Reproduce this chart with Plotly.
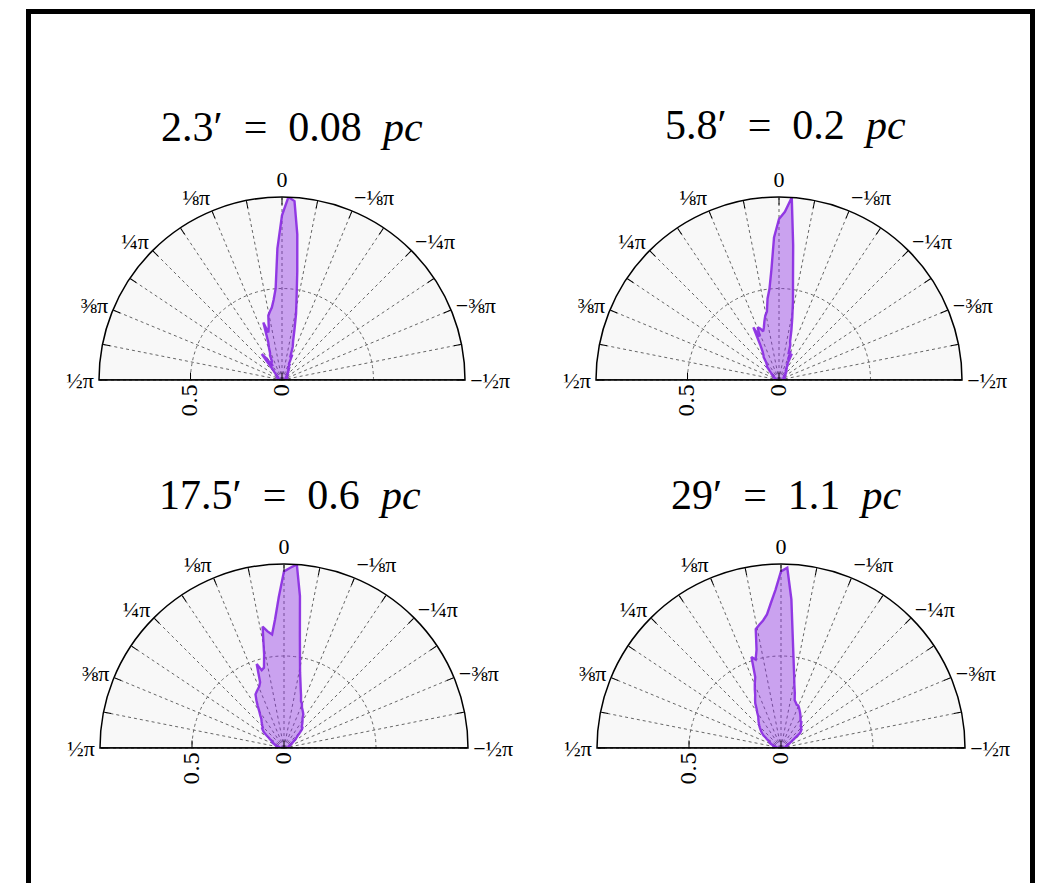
import plotly.graph_objects as go

# angle bins (degrees, 0 = up, positive = left)
theta_deg = list(range(-90, 92, 2))

r_a = [0.02, 0.02, 0.03, 0.02, 0.02, 0.03, 0.02, 0.03, 0.02, 0.03, 0.03, 0.02, 0.03, 0.03, 0.02, 0.03, 0.03, 0.04, 0.03, 0.03,
       0.04, 0.03, 0.04, 0.05, 0.04, 0.05, 0.06, 0.05, 0.07, 0.06, 0.08, 0.07, 0.10, 0.09, 0.15, 0.13, 0.19, 0.22, 0.28, 0.37, 0.46, 0.60, 0.80, 0.98, 1.00,
       0.90,
       0.72, 0.50, 0.44, 0.40, 0.38, 0.36, 0.30, 0.27, 0.33, 0.22, 0.19, 0.16, 0.15, 0.12, 0.11, 0.12, 0.09, 0.15, 0.18, 0.10, 0.07, 0.06, 0.05, 0.04, 0.04,
       0.03, 0.03, 0.04, 0.03, 0.03, 0.02, 0.03, 0.03, 0.02, 0.03, 0.02, 0.02, 0.03, 0.02, 0.02, 0.03, 0.02, 0.02, 0.02, 0.02]

r_b = [0.02, 0.03, 0.02, 0.03, 0.02, 0.03, 0.03, 0.02, 0.03, 0.03, 0.02, 0.03, 0.04, 0.03, 0.03, 0.04, 0.03, 0.04, 0.04, 0.03,
       0.05, 0.04, 0.05, 0.06, 0.05, 0.06, 0.07, 0.06, 0.08, 0.07, 0.10, 0.09, 0.16, 0.12, 0.17, 0.15, 0.20, 0.22, 0.28, 0.35, 0.44, 0.55, 0.74, 1.00, 0.92,
       0.88,
       0.78, 0.60, 0.50, 0.45, 0.38, 0.36, 0.33, 0.30, 0.28, 0.30, 0.31, 0.26, 0.32, 0.22, 0.18, 0.16, 0.15, 0.12, 0.11, 0.10, 0.10, 0.08, 0.07, 0.06, 0.05,
       0.05, 0.04, 0.04, 0.03, 0.04, 0.03, 0.03, 0.03, 0.02, 0.03, 0.02, 0.03, 0.02, 0.02, 0.03, 0.02, 0.02, 0.02, 0.02, 0.02]

r_c = [0.02, 0.02, 0.02, 0.02, 0.03, 0.02, 0.03, 0.03, 0.03, 0.03, 0.03, 0.03, 0.03, 0.04, 0.04, 0.05, 0.05, 0.06, 0.07, 0.08,
       0.09, 0.10, 0.12, 0.14, 0.15, 0.15, 0.16, 0.17, 0.18, 0.19, 0.21, 0.22, 0.23, 0.24, 0.26, 0.27, 0.30, 0.33, 0.37, 0.42, 0.50, 0.62, 0.83, 1.00, 0.98,
       0.96,
       0.82, 0.70, 0.62, 0.64, 0.67, 0.52, 0.45, 0.44, 0.48, 0.38, 0.36, 0.35, 0.34, 0.33, 0.30, 0.27, 0.24, 0.22, 0.20, 0.19, 0.18, 0.17, 0.16, 0.16, 0.15,
       0.14, 0.12, 0.10, 0.09, 0.08, 0.07, 0.07, 0.06, 0.06, 0.05, 0.05, 0.04, 0.04, 0.03, 0.03, 0.03, 0.03, 0.02, 0.02, 0.02]

r_d = [0.02, 0.02, 0.02, 0.02, 0.03, 0.02, 0.03, 0.03, 0.03, 0.03, 0.03, 0.04, 0.04, 0.04, 0.05, 0.06, 0.07, 0.08, 0.10, 0.13,
       0.14, 0.15, 0.15, 0.16, 0.16, 0.17, 0.18, 0.18, 0.19, 0.20, 0.21, 0.22, 0.23, 0.24, 0.25, 0.25, 0.26, 0.27, 0.31, 0.35, 0.41, 0.49, 0.61, 0.81, 0.98,
       0.96,
       0.86, 0.79, 0.73, 0.70, 0.68, 0.66, 0.55, 0.50, 0.52, 0.41, 0.38, 0.35, 0.32, 0.30, 0.28, 0.25, 0.23, 0.21, 0.20, 0.19, 0.18, 0.17, 0.16, 0.15, 0.14,
       0.13, 0.12, 0.10, 0.09, 0.08, 0.07, 0.07, 0.06, 0.06, 0.05, 0.04, 0.04, 0.04, 0.03, 0.03, 0.03, 0.02, 0.02, 0.02, 0.02]

series = [r_a, r_b, r_c, r_d]
titles = ["2.3′\u2002=\u20020.08\u2002<i>pc</i>", "5.8′\u2002=\u20020.2\u2002<i>pc</i>",
          "17.5′\u2002=\u20020.6\u2002<i>pc</i>", "29′\u2002=\u20021.1\u2002<i>pc</i>"]

ang_tickvals = [-90 + 11.25 * i for i in range(17)]
ang_ticktext = ["−½π", "", "−⅜π", "", "−¼π", "", "−⅛π", "", "0",
                "", "⅛π", "", "¼π", "", "⅜π", "", "½π"]
rad_tickvals = [0, 0.5]
rad_ticktext = ["0", "0.5"]

W, H = 1037, 883
# pixel boxes of each half-disc: (left, right, top, bottom)
boxes = [(97, 467, 197, 380), (593, 965, 197, 380),
         (99, 469, 564, 748), (596, 966, 564, 748)]
title_pos = [(292, 127), (785, 125), (290, 495), (786, 495)]


def px(x):
    return x / W


def py(y):
    return 1 - y / H


fig = go.Figure()
layout = dict(width=W, height=H, margin=dict(l=0, r=0, t=0, b=0),
              paper_bgcolor="white", showlegend=False)

fill_col = "rgba(138,43,226,0.42)"
line_col = "rgba(138,43,226,0.92)"

for i, r in enumerate(series):
    pid = "polar" if i == 0 else f"polar{i+1}"
    fig.add_trace(go.Scatterpolar(r=r, theta=theta_deg, mode="lines", fill="toself",
                                  fillcolor=fill_col, line=dict(color=line_col, width=2.4),
                                  subplot=pid, hoverinfo="skip"))
    # baseline of the half disc
    fig.add_trace(go.Scatterpolar(r=[1, 0, 1], theta=[-90, -90, 90], mode="lines",
                                  line=dict(color="black", width=1.5), subplot=pid,
                                  hoverinfo="skip"))
    l, rr, t, b = boxes[i]
    layout[pid] = dict(
        domain=dict(x=[px(l), px(rr)], y=[py(b), py(t)]),
        sector=[0, 180],
        bgcolor="#f8f8f8",
        angularaxis=dict(rotation=90, direction="counterclockwise",
                         tickmode="array", tickvals=ang_tickvals, ticktext=ang_ticktext,
                         ticks="inside", ticklen=7, tickcolor="black", tickwidth=1.2,
                         showline=True, linecolor="black", linewidth=1.5,
                         showgrid=True, gridcolor="#666", griddash="dot", gridwidth=0.8,
                         tickfont=dict(family="Liberation Serif", size=22, color="black")),
        radialaxis=dict(range=[0, 1], angle=180, side="counterclockwise", tickmode="array",
                        tickvals=rad_tickvals, ticktext=rad_ticktext, tickangle=90,
                        showline=False, ticks="inside", ticklen=7, tickcolor="black",
                        tickwidth=1.2, showgrid=True, gridcolor="#666",
                        griddash="dot", gridwidth=0.8,
                        tickfont=dict(family="DejaVu Serif", size=21, color="black")),
    )

annotations = []
for (x, y), txt in zip(title_pos, titles):
    annotations.append(dict(text=txt, x=px(x), y=py(y), xref="paper", yref="paper",
                            showarrow=False, xanchor="center", yanchor="middle",
                            font=dict(family="Liberation Serif", size=42, color="black")))
layout["annotations"] = annotations
layout["shapes"] = [dict(type="rect", xref="paper", yref="paper",
                         x0=px(28.5), x1=px(1032.5), y0=-0.1, y1=py(11.5),
                         line=dict(color="black", width=5), layer="above")]
fig.update_layout(**layout)
fig.write_html("out.html", config={"displayModeBar": False},
               post_script="document.body.style.margin='0';document.body.style.overflow='hidden';")
